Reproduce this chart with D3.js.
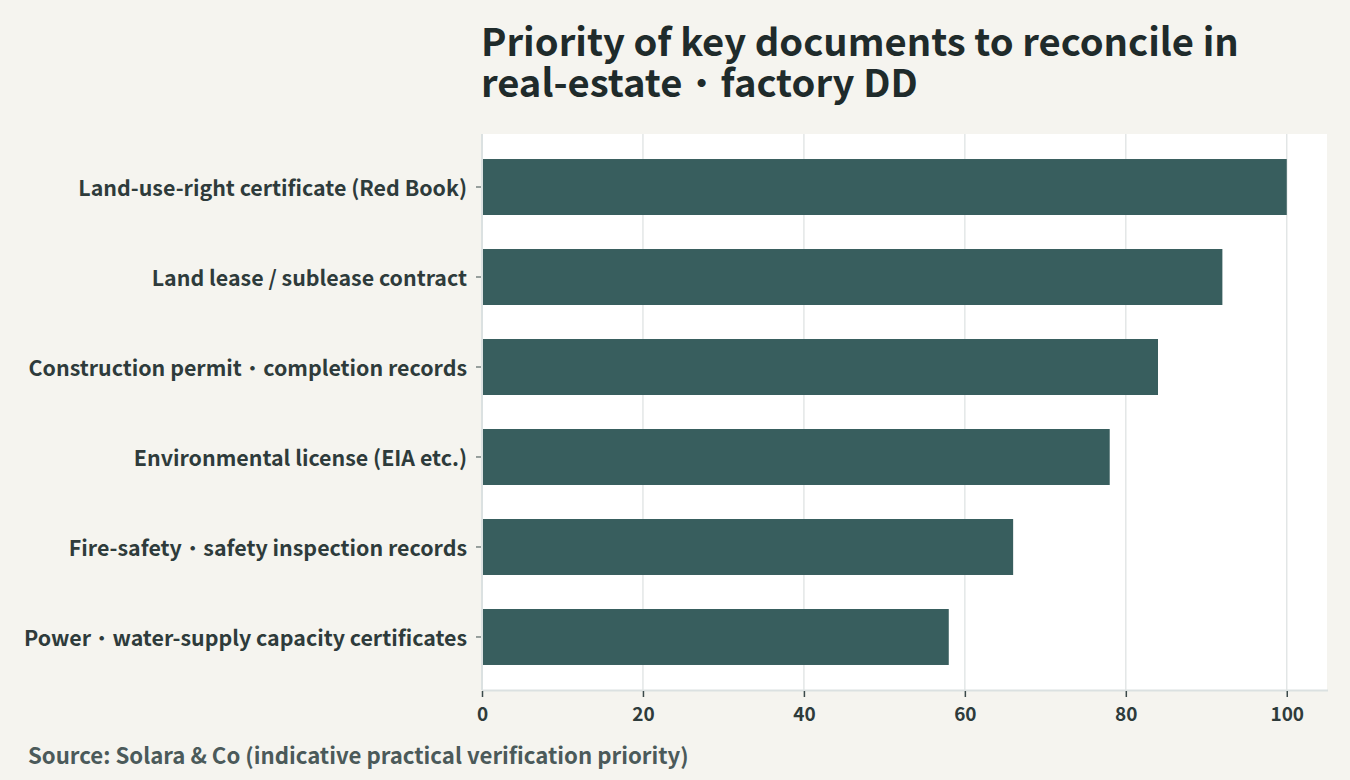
<!DOCTYPE html>
<html><head><meta charset="utf-8">
<script src="https://cdn.jsdelivr.net/npm/d3@7"></script>
<style>
html,body{margin:0;padding:0;background:#f5f4ef;}
svg{display:block;font-family:"Noto Sans CJK JP","Noto Sans",sans-serif;}
</style></head>
<body>
<svg id="c" width="1350" height="780"></svg>
<script>
const categories = [
  "Land-use-right certificate (Red Book)",
  "Land lease / sublease contract",
  "Construction permit・completion records",
  "Environmental license (EIA etc.)",
  "Fire-safety・safety inspection records",
  "Power・water-supply capacity certificates"
];
const values = [100, 92, 84, 78, 66, 58];
const xTicks = [0, 20, 40, 60, 80, 100];
const titleLines = ["Priority of key documents to reconcile in", "real-estate・factory DD"];
const sourceText = "Source: Solara & Co (indicative practical verification priority)";

const FONT = '"Noto Sans CJK JP","Noto Sans",sans-serif';
const svg = d3.select("#c");
const pL = 482, pR = 1327, pT = 134, pB = 690;

// write text splitting out the middle dot so it can be drawn lighter
function fillText(sel, str, dotWeight) {
  sel.text(null);
  const parts = str.split("・");
  parts.forEach((p, i) => {
    if (i > 0) sel.append("tspan").attr("font-weight", dotWeight).text("・");
    sel.append("tspan").text(p);
  });
}

svg.append("rect").attr("width",1350).attr("height",780).attr("fill","#f5f4ef");
svg.append("rect").attr("x",pL).attr("y",pT).attr("width",pR-pL).attr("height",pB-pT).attr("fill","#ffffff");

const x = d3.scaleLinear().domain([0,105]).range([pL,pR]);
const y = d3.scaleBand().domain(categories).range([pT,pB]).paddingInner(0.378).paddingOuter(0.278);

// grid
svg.append("g").selectAll("line").data(xTicks).join("line")
  .attr("x1",d=>x(d)).attr("x2",d=>x(d)).attr("y1",pT).attr("y2",pB)
  .attr("stroke","#dfe3e3").attr("stroke-width",1.3);

// bars
svg.append("g").selectAll("rect").data(values).join("rect")
  .attr("x",x(0)).attr("y",(d,i)=>y(categories[i]))
  .attr("width",d=>x(d)-x(0)).attr("height",y.bandwidth())
  .attr("fill","#385e5e");

// axis lines
svg.append("line").attr("x1",pL).attr("x2",pR+1).attr("y1",pB+0.5).attr("y2",pB+0.5).attr("stroke","#dbe1e1").attr("stroke-width",2);
svg.append("line").attr("x1",pL).attr("x2",pL).attr("y1",pT).attr("y2",pB).attr("stroke","#dbe1e1").attr("stroke-width",2);

// x axis
const xa = svg.append("g").attr("transform",`translate(0,${pB+1})`)
  .call(d3.axisBottom(x).tickValues(xTicks).tickSize(6).tickPadding(11));
xa.select(".domain").remove();
xa.selectAll(".tick line").attr("stroke","#3b4a4a").attr("stroke-width",1.5);
xa.selectAll(".tick text").attr("fill","#2e3b3b").attr("font-size",19).attr("font-weight",700)
  .attr("font-family",FONT);

// y axis
const ya = svg.append("g").attr("transform",`translate(${pL-1},0)`)
  .call(d3.axisLeft(y).tickSize(5).tickPadding(9));
ya.select(".domain").remove();
ya.selectAll(".tick line").attr("stroke","#3b4a4a").attr("stroke-width",1);
ya.selectAll(".tick text").attr("fill","#2e3b3b").attr("font-size",21.4).attr("font-weight",700)
  .attr("font-family",FONT).attr("dy","0.42em")
  .each(function(d){ fillText(d3.select(this), d, 400); });

// title
svg.append("g").selectAll("text").data(titleLines).join("text")
  .attr("x",481).attr("y",(d,i)=>55.5+i*41)
  .attr("fill","#1f2b2b").attr("font-size",38.2).attr("font-weight",700)
  .each(function(d){ fillText(d3.select(this), d, 400); });

svg.append("text").attr("x",28).attr("y",764).attr("fill","#4b5a5a")
  .attr("font-size",22.2).attr("font-weight",700).text(sourceText);
</script>
</body></html>
